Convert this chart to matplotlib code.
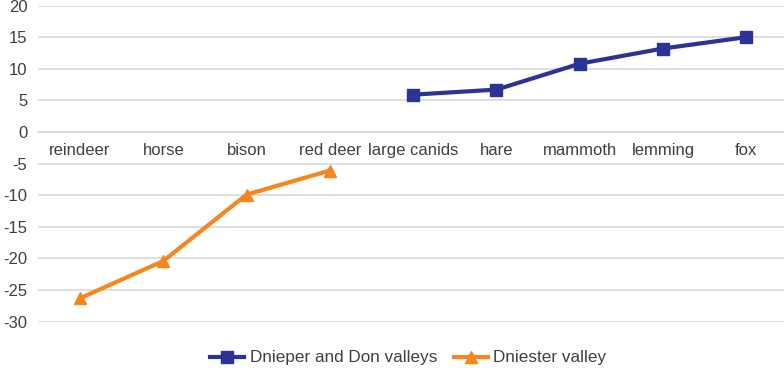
import matplotlib.pyplot as plt
import numpy as np

plt.rcParams['font.family'] = ['Liberation Sans', 'DejaVu Sans']
plt.rcParams['axes.unicode_minus'] = False

categories = ["reindeer", "horse", "bison", "red deer", "large canids",
              "hare", "mammoth", "lemming", "fox"]
dnieper_don = [np.nan, np.nan, np.nan, np.nan, 5.9, 6.7, 10.8, 13.2, 15.0]
dniester = [-26.3, -20.4, -9.9, -6.1, np.nan, np.nan, np.nan, np.nan, np.nan]

blue = "#2B3494"
orange = "#F7861F"
text_col = "#404040"
grid_col = "#D9D9D9"

fig = plt.figure(figsize=(7.84, 3.68), dpi=100)
ax = fig.add_axes([0.049, 0.126, 0.956, 0.859])

x = np.arange(len(categories))
ax.plot(x, dnieper_don, color=blue, lw=3, marker="s", ms=9,
        label="Dnieper and Don valleys")
ax.plot(x, dniester, color=orange, lw=3, marker="^", ms=9,
        label="Dniester valley")

ax.set_xlim(-0.5, len(categories) - 0.5)
ax.set_ylim(-30, 20)
ax.set_yticks(range(-30, 21, 5))
ax.set_xticks(x)
ax.set_xticklabels(categories)
ax.yaxis.grid(True, color=grid_col, lw=1.2)
ax.set_axisbelow(True)

# category axis sits on the zero line
for s in ["top", "right", "left"]:
    ax.spines[s].set_visible(False)
ax.spines["bottom"].set_position(("data", 0))
ax.spines["bottom"].set_color(grid_col)
ax.spines["bottom"].set_linewidth(1.2)
ax.tick_params(axis="both", length=0, labelsize=12, colors=text_col)
ax.tick_params(axis="x", pad=8)
ax.tick_params(axis="y", pad=8)

ax.legend(loc="center", bbox_to_anchor=(0.5 - 0.049 / 2 + 0.018, -0.115),
          ncol=2, frameon=False, fontsize=12.3, labelcolor=text_col,
          handlelength=2.0, columnspacing=1.0, handletextpad=0.3)

fig.savefig("out.png", dpi=100)
